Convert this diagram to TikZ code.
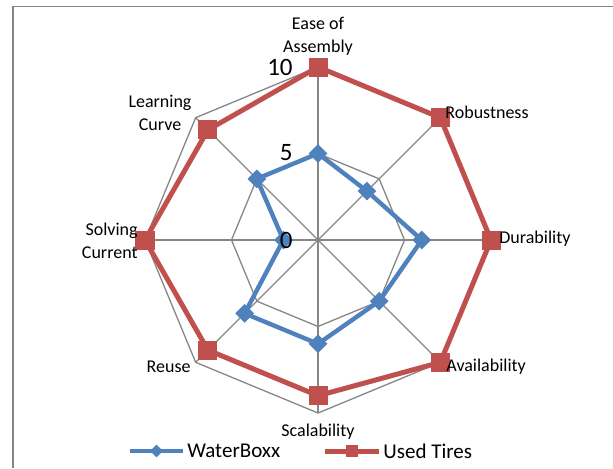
\documentclass[tikz,border=0pt]{standalone}
\usepackage{fontspec}
\setmainfont{Carlito}
\usetikzlibrary{calc}
\usetikzlibrary{positioning}
\usetikzlibrary{shapes.geometric}

\definecolor{gridgray}{RGB}{134,134,134}
\definecolor{boxxblue}{RGB}{79,129,189}
\definecolor{tirered}{RGB}{192,80,77}

\tikzset{
  frameline/.style={draw=gridgray,line width=0.75pt},
  gridline/.style={draw=gridgray,line width=0.65pt},
  boxxline/.style={draw=boxxblue,line width=2.2pt,line join=round},
  tireline/.style={draw=tirered,line width=2.5pt,line join=round},
  boxxmark/.style={diamond,fill=boxxblue,inner sep=0pt,minimum size=9.5pt},
  tiremark/.style={rectangle,fill=tirered,inner sep=0pt,minimum size=9.5pt},
  axislabel/.style={font=\fontsize{9}{11.5}\selectfont,inner sep=0pt,align=center},
  valuelabel/.style={font=\fontsize{12.5}{14}\selectfont,inner sep=0pt,anchor=east},
  legendlabel/.style={font=\fontsize{10.5}{12}\selectfont,inner sep=0pt,anchor=west}
}

\begin{document}
\begin{tikzpicture}[x=0.5pt,y=0.5pt]

\useasboundingbox (-318,-228) rectangle (295,240);
\draw[frameline] (295,233.5) -- (-305,233.5) -- (-305,-228);

% grid
\foreach \a in {90,45,...,-225} \draw[gridline] (0,0) -- (\a:173);
\draw[gridline] (90:86.5) \foreach \a in {45,0,...,-225} {-- (\a:86.5)} -- cycle;
\draw[gridline] (90:173) \foreach \a in {45,0,...,-225} {-- (\a:173)} -- cycle;

% data
\foreach \v [count=\i] in {5,4,6,5,6,6,2,5}
  \coordinate (b\i) at ({135-45*\i}:{17.3*\v});
\foreach \v [count=\i] in {10,10,10,10,9,9,10,9}
  \coordinate (t\i) at ({135-45*\i}:{17.3*\v});

\draw[boxxline] (b1) -- (b2) -- (b3) -- (b4) -- (b5) -- (b6) -- (b7) -- (b8) -- cycle;
\foreach \i in {1,...,8} \node[boxxmark] (bm\i) at (b\i) {};
\draw[tireline] (t1) -- (t2) -- (t3) -- (t4) -- (t5) -- (t6) -- (t7) -- (t8) -- cycle;
\foreach \i in {1,...,8} \node[tiremark] (tm\i) at (t\i) {};

\node[valuelabel] (v10) at (-25,173) {10};
\node[valuelabel] (v5) at (-25,87) {5};
\node[valuelabel] (v0) at (-25,0) {0};

\node[axislabel] (ease) at (0,203.5) {Ease of\\Assembly};
\node[axislabel,anchor=west] (robust) at (127,128) {Robustness};
\node[axislabel,anchor=west] (durab) at (181,1) {Durability};
\node[axislabel,anchor=west] (avail) at (128,-127) {Availability};
\node[axislabel] (scal) at (0,-192) {Scalability};
\node[axislabel,anchor=east] (reuse) at (-127,-127) {Reuse};
\node[axislabel,anchor=east,align=right] (solving) at (-180,-0.5) {Solving\\Current};
\node[axislabel] (learning) at (-158,127.5) {Learning\\Curve};

% legend
\coordinate (lb1) at (-188,-211);
\coordinate (lb2) at (-135,-211);
\draw[boxxline] (lb1) -- (lb2);
\node[boxxmark,minimum size=6.5pt] (lbm) at ($(lb1)!0.5!(lb2)$) {};
\node[legendlabel] (lbtext) at (-131,-211) {WaterBoxx};
\coordinate (lt1) at (7,-211);
\coordinate (lt2) at (61,-211);
\draw[tireline] (lt1) -- (lt2);
\node[tiremark,minimum size=6pt] (ltm) at ($(lt1)!0.5!(lt2)$) {};
\node[legendlabel] (lttext) at (65,-211) {Used Tires};

\end{tikzpicture}
\end{document}
